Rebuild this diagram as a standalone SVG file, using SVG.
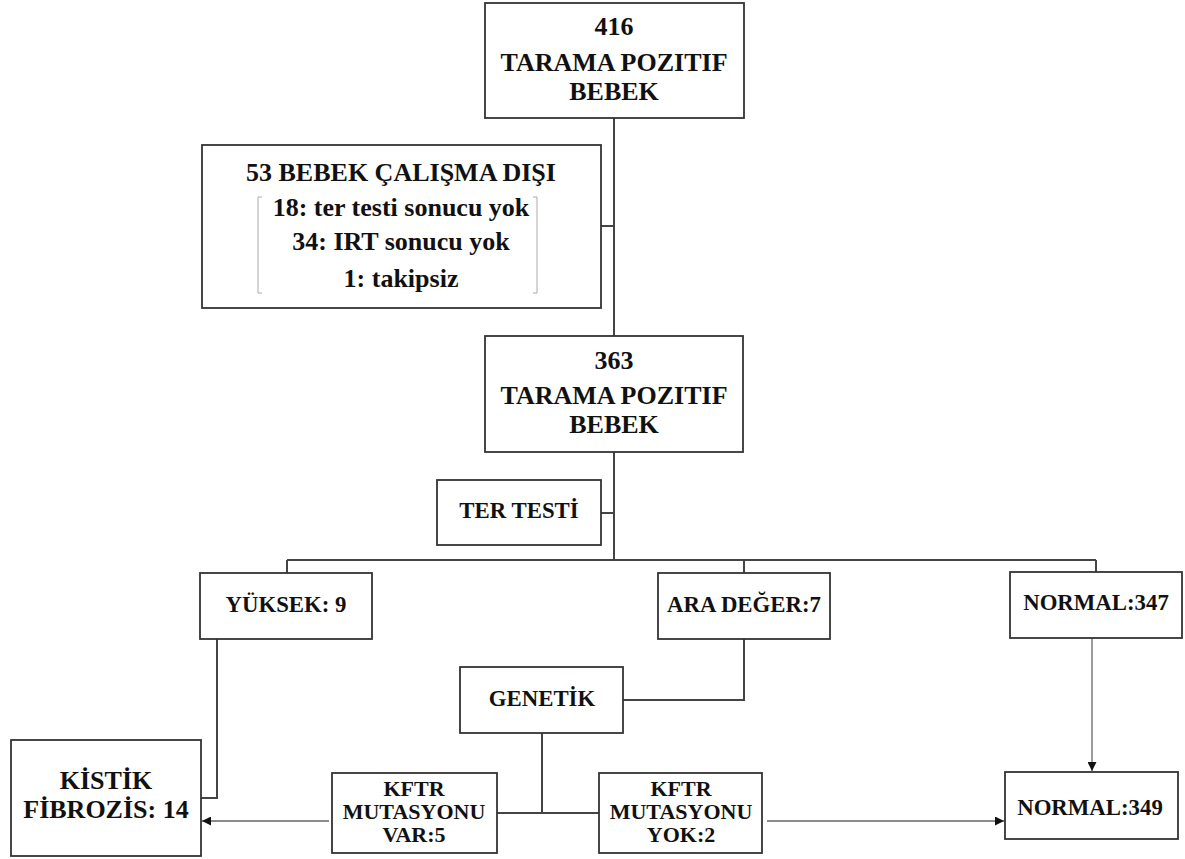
<svg xmlns="http://www.w3.org/2000/svg" width="1185" height="859" viewBox="0 0 1185 859">
<style>
.box{fill:#fff;stroke:#333;stroke-width:1.8}
.t{font-family:"Liberation Serif","Times New Roman",serif;font-weight:bold;fill:#111;text-anchor:middle}
.big{font-size:26px}
.med{font-size:22.8px}
.sm{font-size:22px}
.c{fill:none;stroke:#444;stroke-width:2}
.a{fill:none;stroke:#666;stroke-width:1.3}
.br{fill:none;stroke:#aaa;stroke-width:1}
</style>
<defs>
<marker id="arr" viewBox="0 0 10 10" refX="10" refY="5" markerWidth="9" markerHeight="9" markerUnits="userSpaceOnUse" orient="auto">
<path d="M0,0 L10,5 L0,10 z" fill="#111"/>
</marker>
</defs>
<g id="connectors">
<path class="c" d="M614,118 V336"/>
<path class="c" d="M601,226 H614"/>
<path class="c" d="M614,452 V560"/>
<path class="c" d="M601,513 H614"/>
<path class="c" d="M287,560 H1096"/>
<path class="c" d="M287,560 V573"/>
<path class="c" d="M744,560 V573"/>
<path class="c" d="M1096,560 V572"/>
<path class="c" d="M217,639 V798 H201"/>
<path class="c" d="M744,639 V700 H623"/>
<path class="c" d="M542,733 V813"/>
<path class="c" d="M497,813 H599"/>
<path class="a" d="M329,821 H202" marker-end="url(#arr)"/>
<path class="a" d="M767,821 H1004" marker-end="url(#arr)"/>
<path class="a" d="M1092,638 V771" marker-end="url(#arr)"/>
</g>
<g id="n416">
<rect class="box" x="485" y="3" width="259" height="115"/>
<text class="t big" x="614" y="35">416</text>
<text class="t big" x="614" y="71">TARAMA POZITIF</text>
<text class="t big" x="614" y="100">BEBEK</text>
</g>
<g id="n53">
<rect class="box" x="202" y="145" width="399" height="163"/>
<text class="t big" x="401" y="181">53 BEBEK ÇALIŞMA DIŞI</text>
<path class="br" d="M262,197 H258 V293 H262"/>
<path class="br" d="M533,197 H537 V293 H533"/>
<text class="t big" x="401" y="216">18: ter testi sonucu yok</text>
<text class="t big" x="401" y="250">34: IRT sonucu yok</text>
<text class="t big" x="401" y="287">1: takipsiz</text>
</g>
<g id="n363">
<rect class="box" x="485" y="336" width="258" height="116"/>
<text class="t big" x="614" y="369">363</text>
<text class="t big" x="614" y="404">TARAMA POZITIF</text>
<text class="t big" x="614" y="433">BEBEK</text>
</g>
<g id="nter">
<rect class="box" x="437" y="480" width="164" height="65"/>
<text class="t med" x="519" y="518">TER TESTİ</text>
</g>
<g id="nyuksek">
<rect class="box" x="200" y="573" width="172" height="66"/>
<text class="t med" x="286" y="612">YÜKSEK: 9</text>
</g>
<g id="nara">
<rect class="box" x="658" y="573" width="172" height="66"/>
<text class="t med" x="744" y="612">ARA DEĞER:7</text>
</g>
<g id="nnormal347">
<rect class="box" x="1010" y="572" width="172" height="66"/>
<text class="t med" x="1096" y="610">NORMAL:347</text>
</g>
<g id="ngenetik">
<rect class="box" x="460" y="667" width="163" height="66"/>
<text class="t med" x="542" y="706">GENETİK</text>
</g>
<g id="nkistik">
<rect class="box" x="11" y="740" width="190" height="116"/>
<text class="t big" x="106" y="789">KİSTİK</text>
<text class="t big" x="106" y="818">FİBROZİS: 14</text>
</g>
<g id="nvar">
<rect class="box" x="332" y="773" width="165" height="80"/>
<text class="t sm" x="414" y="796">KFTR</text>
<text class="t sm" x="414" y="819">MUTASYONU</text>
<text class="t sm" x="414" y="842">VAR:5</text>
</g>
<g id="nyok">
<rect class="box" x="599" y="773" width="163" height="80"/>
<text class="t sm" x="681" y="796">KFTR</text>
<text class="t sm" x="681" y="819">MUTASYONU</text>
<text class="t sm" x="681" y="842">YOK:2</text>
</g>
<g id="nnormal349">
<rect class="box" x="1005" y="772" width="173" height="67"/>
<text class="t med" x="1090" y="815">NORMAL:349</text>
</g>
</svg>
